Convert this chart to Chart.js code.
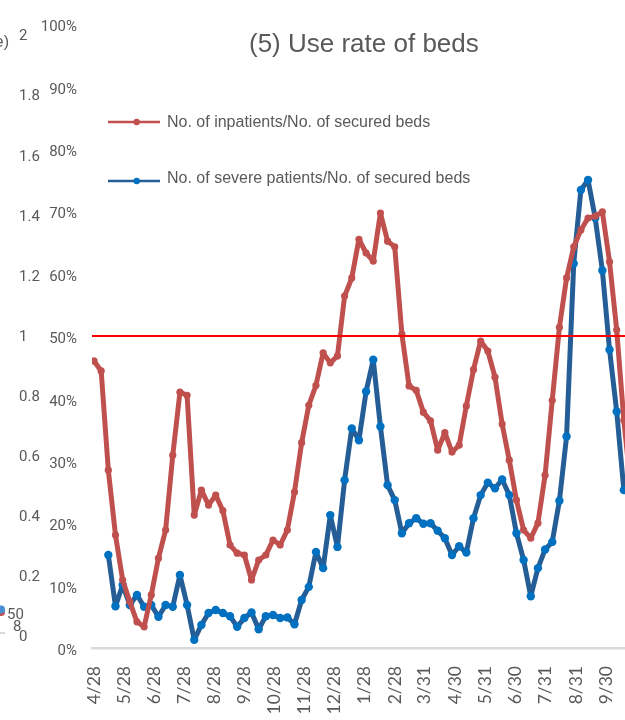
<!DOCTYPE html>
<html>
<head>
<meta charset="utf-8">
<script src="https://cdn.jsdelivr.net/npm/chart.js@4.4.1/dist/chart.umd.min.js"></script>
<style>
html,body{margin:0;padding:0;background:#ffffff;}
canvas{display:block;}
</style>
</head>
<body>
<canvas id="c" width="625" height="720" style="width:625px;height:720px"></canvas>
<script>
// ---- chart text ----
const titleText = '(5) Use rate of beds';
const seriesNames = ['No. of inpatients/No. of secured beds', 'No. of severe patients/No. of secured beds'];

// ---- x axis: tick labels and their positions (in weekly point index units) ----
const tickLabels = ['4/28','5/28','6/28','7/28','8/28','9/28','10/28','11/28','12/28','1/28','2/28','3/31','4/30','5/31','6/30','7/31','8/31','9/30'];
const tickPos = [0, 4.19, 8.38, 12.57, 16.76, 20.95, 25.14, 29.33, 33.6, 37.8, 42.1, 46.2, 50.4, 54.6, 58.8, 63.1, 67.3, 71.5];

// ---- secondary (left, outer) axis labels from the overlapping chart ----
const secTicks = [0, 0.2, 0.4, 0.6, 0.8, 1, 1.2, 1.4, 1.6, 1.8, 2];
const secLabels = ['0', '0.2', '0.4', '0.6', '0.8', '1', '1.2', '1.4', '1.6', '1.8', '2'];

// ---- series values (%), one per weekly point ----
const inpatients = [46.0,44.4,28.5,18.1,10.9,7.4,4.2,3.4,8.5,14.4,
  18.9,30.9,41.0,40.5,21.3,25.3,22.9,24.5,22.0,16.5,
  15.2,14.9,10.9,14.1,14.9,17.3,16.5,18.9,25.0,32.9,
  38.9,42.1,47.3,45.7,46.8,56.4,59.3,65.5,63.3,62.0,
  69.7,65.2,64.3,50.3,42.0,41.3,37.8,36.4,31.7,34.5,
  31.4,32.5,38.8,44.6,49.2,47.6,43.4,35.9,30.1,23.7,
  18.9,17.6,20.0,27.7,39.7,51.4,59.3,64.3,67.0,68.9,
  69.2,69.9,61.9,51.0,36.5,25.3];
const severe = [null,null,14.9,6.7,10.1,6.9,8.5,6.6,6.9,5.0,6.9,6.6,
  11.7,6.9,1.3,3.7,5.6,6.1,5.6,5.1,3.4,4.8,
  5.7,3.0,5.1,5.3,4.8,4.9,3.8,7.7,9.8,15.4,
  12.8,21.3,16.2,26.9,35.2,33.3,41.1,46.2,35.5,26.1,
  23.7,18.4,20.0,20.8,19.9,20.0,18.8,17.6,14.9,16.3,
  15.3,20.8,24.5,26.5,25.6,27.0,24.5,18.4,14.1,8.3,
  12.8,15.8,17.0,23.6,33.9,61.6,73.4,75.0,68.9,60.5,
  47.8,37.9,25.3];
const threshold = 50;

// ---- visible x range (point index units) ----
const xMin = -0.28;
const xMax = 74.16;

const redColor = '#c0504d';
const blueLine = '#255e96';
const bluePoint = '#0070c0';
const textColor = '#595959';
const tickFont = "Roboto, 'Liberation Sans', sans-serif";
const sansFont = "'Liberation Sans', Arial, sans-serif";

const toPoints = arr => arr.map((v, i) => ({x: i, y: v}));

const overlayPlugin = {
  id: 'overlay',
  afterDraw(chart) {
    const ctx = chart.ctx;
    ctx.save();
    // title
    ctx.fillStyle = textColor;
    ctx.font = "26px " + sansFont;
    ctx.textAlign = 'left';
    ctx.textBaseline = 'alphabetic';
    ctx.fillText(titleText, 249, 51.7);

    // legend
    const rows = [
      {y: 122, line: redColor, dot: redColor, base: 126.7, text: seriesNames[0]},
      {y: 181, line: blueLine, dot: bluePoint, base: 183.3, text: seriesNames[1]}
    ];
    rows.forEach(r => {
      ctx.strokeStyle = r.line;
      ctx.lineWidth = 2.6;
      ctx.beginPath();
      ctx.moveTo(108, r.y);
      ctx.lineTo(160, r.y);
      ctx.stroke();
      ctx.fillStyle = r.dot;
      ctx.beginPath();
      ctx.arc(136.7, r.y, 3.2, 0, Math.PI * 2);
      ctx.fill();
      ctx.fillStyle = textColor;
      ctx.font = "16px " + sansFont;
      ctx.fillText(r.text, 167, r.base);
    });

    // fragments of the neighbouring chart at the left edge
    ctx.fillStyle = textColor;
    ctx.font = "16px " + sansFont;
    ctx.textAlign = 'right';
    ctx.fillText('e)', 9, 47);
    ctx.font = "15px " + tickFont;
    ctx.textAlign = 'left';
    ctx.textBaseline = 'middle';
    ctx.fillText('50', 7, 615);
    ctx.fillText('8', 13, 627);
    ctx.strokeStyle = '#d9d9d9';
    ctx.lineWidth = 2;
    ctx.beginPath(); ctx.moveTo(0, 633); ctx.lineTo(5, 633); ctx.stroke();
    ctx.fillStyle = redColor;
    ctx.beginPath(); ctx.arc(1, 612, 4, 0, Math.PI * 2); ctx.fill();
    ctx.fillStyle = '#4a8fd6';
    ctx.beginPath(); ctx.arc(1, 609.5, 4, 0, Math.PI * 2); ctx.fill();
    ctx.restore();
  }
};

new Chart(document.getElementById('c'), {
  type: 'line',
  data: {
    datasets: [
      {
        label: '50%',
        data: [{x: xMin, y: threshold}, {x: xMax, y: threshold}],
        borderColor: '#ff0000',
        borderWidth: 2,
        pointRadius: 0,
        yAxisID: 'y'
      },
      {
        label: seriesNames[0],
        data: toPoints(inpatients),
        borderColor: redColor,
        backgroundColor: redColor,
        borderWidth: 5,
        pointRadius: 3.6,
        pointBorderWidth: 0,
        pointBackgroundColor: redColor,
        borderJoinStyle: 'round',
        borderCapStyle: 'round',
        tension: 0,
        yAxisID: 'y'
      },
      {
        label: seriesNames[1],
        data: toPoints(severe),
        borderColor: blueLine,
        backgroundColor: bluePoint,
        borderWidth: 5,
        pointRadius: 4.2,
        pointBorderWidth: 0,
        pointBackgroundColor: bluePoint,
        borderJoinStyle: 'round',
        borderCapStyle: 'round',
        tension: 0,
        spanGaps: false,
        yAxisID: 'y'
      }
    ]
  },
  options: {
    responsive: false,
    animation: false,
    events: [],
    layout: {autoPadding: false, padding: {left: 19, top: 24, right: 0, bottom: 0}},
    plugins: {
      legend: {display: false},
      title: {display: false},
      tooltip: {enabled: false}
    },
    scales: {
      x: {
        type: 'linear',
        min: xMin,
        max: xMax,
        grid: {display: false, drawTicks: false},
        border: {display: true, color: '#d9d9d9', width: 2.5},
        afterBuildTicks: s => { s.ticks = tickPos.map(v => ({value: v})); },
        afterFit: s => { s.height = 72; s.paddingLeft = 0; s.paddingRight = 0; },
        ticks: {
          autoSkip: false,
          minRotation: 90,
          maxRotation: 90,
          padding: 18,
          color: textColor,
          font: {family: "Lato, 'Open Sans', sans-serif", size: 17.5},
          callback: (v, i) => tickLabels[i]
        }
      },
      y: {
        position: 'left',
        weight: 0,
        min: 0,
        max: 100,
        grid: {display: false, drawTicks: false},
        border: {display: false},
        afterFit: s => { s.width = 51; },
        ticks: {
          stepSize: 10,
          padding: 15,
          labelOffset: 3.5,
          color: textColor,
          font: {family: tickFont, size: 15},
          callback: v => v + '%'
        }
      },
      y2: {
        position: 'left',
        weight: 1,
        min: -0.035,
        max: 2.042,
        grid: {display: false, drawTicks: false},
        border: {display: false},
        afterBuildTicks: s => { s.ticks = secTicks.map(v => ({value: v})); },
        afterFit: s => { s.width = 22; },
        ticks: {
          autoSkip: false,
          crossAlign: 'far',
          padding: 0,
          color: textColor,
          font: {family: tickFont, size: 15},
          callback: (v, i) => secLabels[i]
        }
      }
    }
  },
  plugins: [overlayPlugin]
});
</script>
</body>
</html>
